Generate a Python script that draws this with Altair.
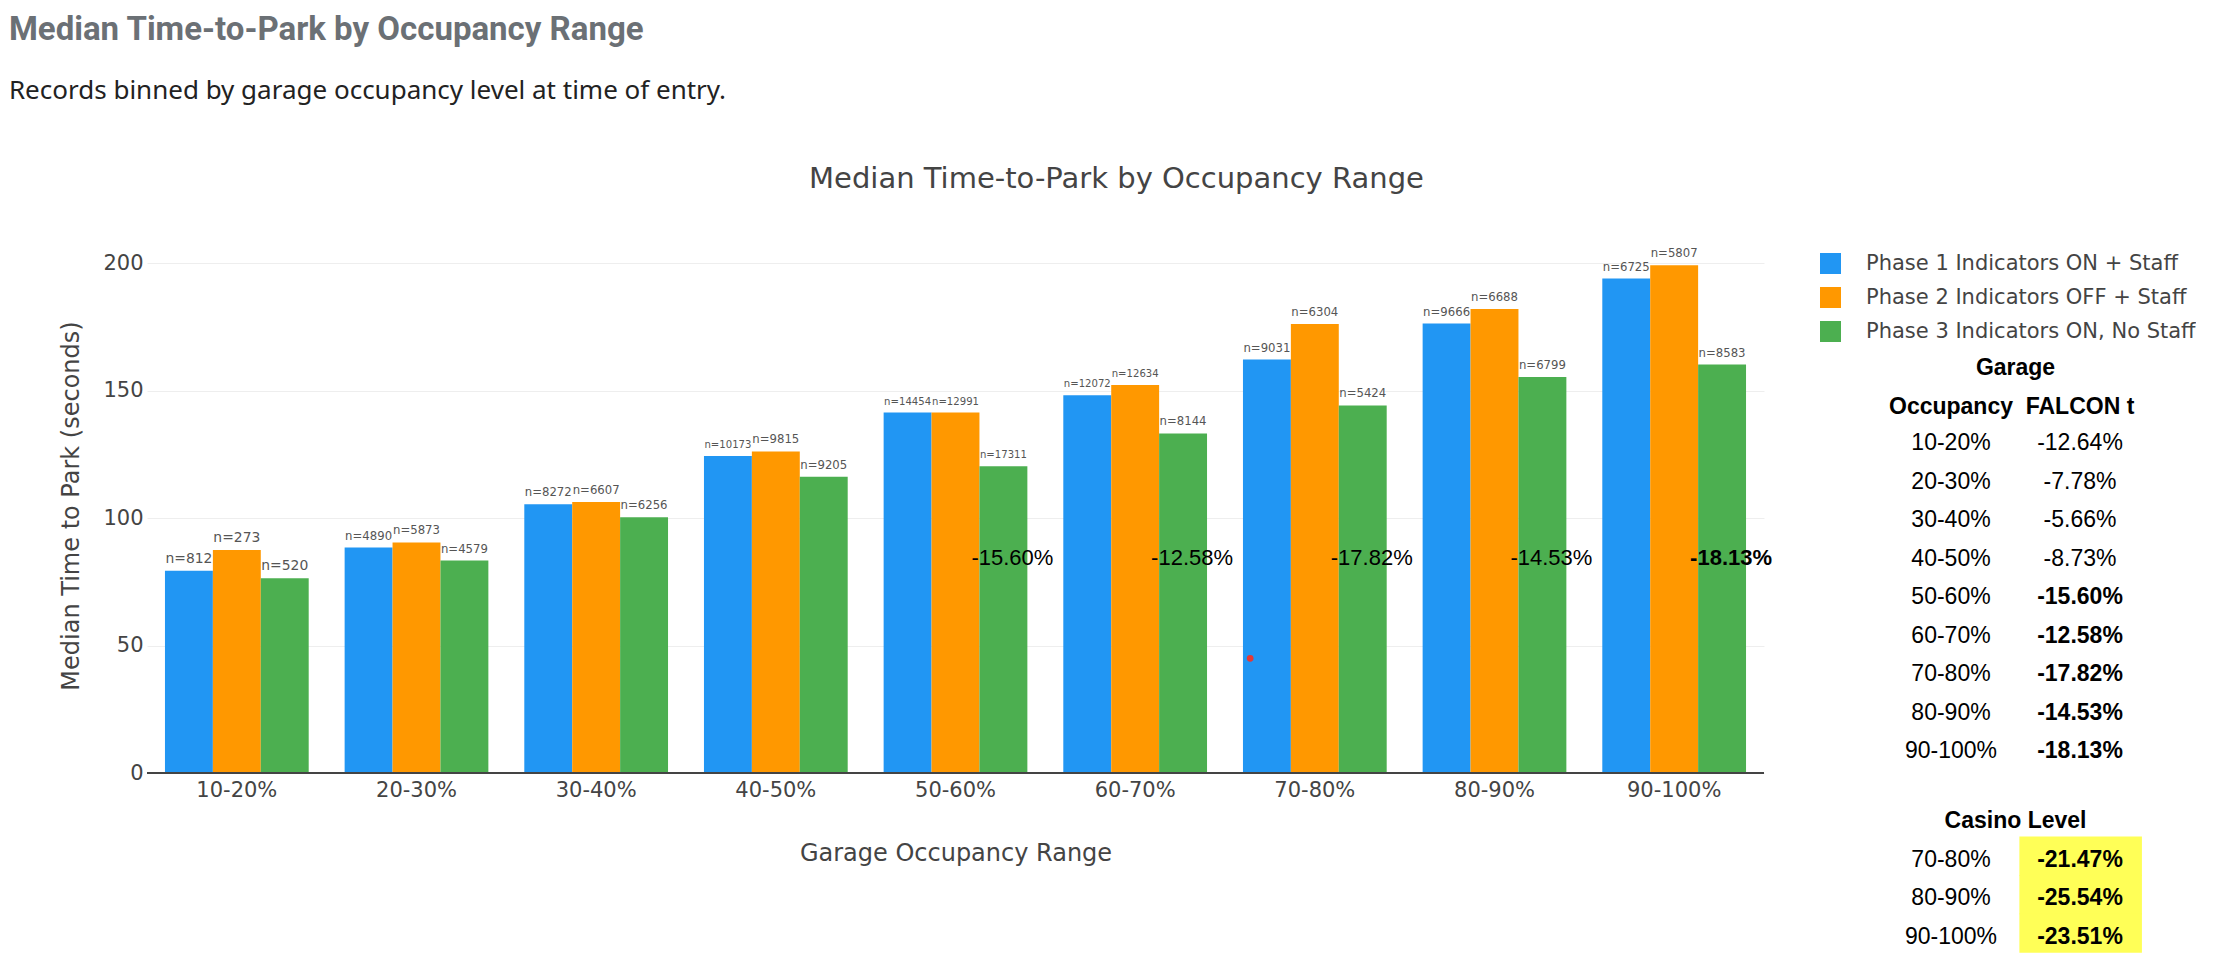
import altair as alt
import pandas as pd

# ---------------- data ----------------
categories = ["10-20%", "20-30%", "30-40%", "40-50%", "50-60%",
              "60-70%", "70-80%", "80-90%", "90-100%"]
phases = ["Phase 1 Indicators ON + Staff",
          "Phase 2 Indicators OFF + Staff",
          "Phase 3 Indicators ON, No Staff"]
phase1_median = [79.4, 88.5, 105.5, 124.4, 141.5, 148.3, 162.3, 176.4, 194.1]
phase2_median = [87.5, 90.5, 106.4, 126.2, 141.5, 152.3, 176.2, 182.1, 199.3]
phase3_median = [76.4, 83.4, 100.4, 116.3, 120.4, 133.3, 144.3, 155.4, 160.3]
phase1_n = [812, 4890, 8272, 10173, 14454, 12072, 9031, 9666, 6725]
phase2_n = [273, 5873, 6607, 9815, 12991, 12634, 6304, 6688, 5807]
phase3_n = [520, 4579, 6256, 9205, 17311, 8144, 5424, 6799, 8583]
colors = ["#2196F3", "#FF9800", "#4CAF50"]

annot_categories = ["50-60%", "60-70%", "70-80%", "80-90%", "90-100%"]
annot_labels = ["-15.60%", "-12.58%", "-17.82%", "-14.53%", "-18.13%"]
annot_bold = [False, False, False, False, True]
annot_value = 84.3

garage_occ = categories
garage_falcon = ["-12.64%", "-7.78%", "-5.66%", "-8.73%", "-15.60%",
                 "-12.58%", "-17.82%", "-14.53%", "-18.13%"]
garage_bold = [False, False, False, False, True, True, True, True, True]
casino_occ = ["70-80%", "80-90%", "90-100%"]
casino_falcon = ["-21.47%", "-25.54%", "-23.51%"]

marker_category = "70-80%"
marker_value = 45

# ---------------- tables ----------------
rows = []
for ph, med, ns in zip(phases, [phase1_median, phase2_median, phase3_median],
                       [phase1_n, phase2_n, phase3_n]):
    for c, v, n in zip(categories, med, ns):
        lab = f"n={n}"
        em = 0.634 + 0.838 + 0.636 * len(str(n))
        rows.append({"occ": c, "phase": ph, "value": v, "label": lab,
                     "fs": min(14.0, 47.0 / em)})
bars_df = pd.DataFrame(rows)

annot_df = pd.DataFrame({"occ": annot_categories, "label": annot_labels,
                         "bold": annot_bold, "phase": phases[2],
                         "value": annot_value})

# table layout (row index computed from structure)
trows = []
trows.append({"text": "Garage", "col": 0.5, "row": 0, "bold": True})
trows.append({"text": "Occupancy", "col": 0.0, "row": 1, "bold": True})
trows.append({"text": "FALCON t", "col": 1.0, "row": 1, "bold": True})
for i, (o, f, b) in enumerate(zip(garage_occ, garage_falcon, garage_bold)):
    trows.append({"text": o, "col": 0.0, "row": 1.95 + i, "bold": False})
    trows.append({"text": f, "col": 1.0, "row": 1.95 + i, "bold": b})
casino_start = 2 + len(garage_occ) + 0.77
trows.append({"text": "Casino Level", "col": 0.5, "row": casino_start, "bold": True})
hl = []
for i, (o, f) in enumerate(zip(casino_occ, casino_falcon)):
    r = casino_start + 1 + i
    trows.append({"text": o, "col": 0.0, "row": r, "bold": False})
    trows.append({"text": f, "col": 1.0, "row": r, "bold": True})
    hl.append({"x0": 0.53, "x1": 1.48, "y0": r - 0.6, "y1": r + 0.42})
table_df = pd.DataFrame(trows)
hl_df = pd.DataFrame(hl)

W, H = 1617, 535
AXF = "DejaVu Sans"
GRAY = "#444444"

x_enc = alt.X("occ:N", sort=categories,
              scale=alt.Scale(domain=categories, paddingInner=0.2, paddingOuter=0.1),
              axis=alt.Axis(title="Garage Occupancy Range", labelAngle=0, ticks=False,
                            domain=False, grid=False, labelFontSize=21, labelFont=AXF,
                            labelColor=GRAY, labelPadding=6, titleFontSize=24,
                            titleFont=AXF, titleColor=GRAY, titleFontWeight="normal",
                            titlePadding=41))
xo_enc = alt.XOffset("phase:N", sort=phases,
                     scale=alt.Scale(domain=phases, paddingInner=0, paddingOuter=0))
y_enc = alt.Y("value:Q", scale=alt.Scale(domain=[0, 210], nice=False),
              axis=alt.Axis(values=[0, 50, 100, 150, 200], title="Median Time to Park (seconds)",
                            ticks=False, domain=False, gridColor="#eeeeee", gridWidth=1,
                            labelFontSize=21, labelFont=AXF, labelColor=GRAY, labelPadding=4,
                            titleFontSize=24, titleFont=AXF, titleColor=GRAY,
                            titleFontWeight="normal", titlePadding=19))

bars = alt.Chart(bars_df).mark_bar().encode(
    x=x_enc, xOffset=xo_enc, y=y_enc,
    color=alt.Color("phase:N", sort=phases,
                    scale=alt.Scale(domain=phases, range=colors),
                    legend=alt.Legend(orient="none", legendX=1673, legendY=15, title=None,
                                      labelFontSize=21, labelFont=AXF, labelColor=GRAY,
                                      symbolType="square", symbolSize=441,
                                      symbolStrokeWidth=0, symbolOpacity=1,
                                      rowPadding=12, labelOffset=25, padding=0,
                                      labelLimit=500)))

nlabels = alt.Chart(bars_df).mark_text(baseline="alphabetic", dy=-8, color="#555555",
                                       font=AXF).encode(
    x=alt.X("occ:N", sort=categories), xOffset=alt.XOffset("phase:N", sort=phases),
    y="value:Q", text="label:N", size=alt.Size("fs:Q", scale=None, legend=None))

annot_norm = alt.Chart(annot_df).transform_filter("!datum.bold").mark_text(
    font="Liberation Sans", fontSize=22, color="black", dx=9, baseline="middle").encode(
    x=alt.X("occ:N", sort=categories), xOffset=alt.XOffset("phase:N", sort=phases),
    y="value:Q", text="label:N")
annot_bold_l = alt.Chart(annot_df).transform_filter("datum.bold").mark_text(
    font="Liberation Sans", fontSize=22, fontWeight="bold", color="black", dx=9,
    baseline="middle").encode(
    x=alt.X("occ:N", sort=categories), xOffset=alt.XOffset("phase:N", sort=phases),
    y="value:Q", text="label:N")

zero_rule = alt.Chart(pd.DataFrame({"z": [0]})).mark_rule(
    color=GRAY, strokeWidth=2).encode(y="z:Q")

dot = alt.Chart(pd.DataFrame({"occ": [marker_category], "value": [marker_value]})).mark_circle(
    color="#e53935", size=45, opacity=1).encode(
    x=alt.X("occ:N", sort=categories, bandPosition=0.05), y="value:Q")

main = alt.layer(bars, zero_rule, nlabels, annot_norm, annot_bold_l, dot)

tx = alt.X("col:Q", scale=alt.Scale(domain=[0, 1], range=[1804, 1933]), axis=None)
ty = alt.Y("row:Q", scale=alt.Scale(domain=[0, 14], range=[130, 669]), axis=None)

hl_rect = alt.Chart(hl_df).mark_rect(color="#ffff57").encode(
    x=alt.X("x0:Q", scale=alt.Scale(domain=[0, 1], range=[1804, 1933]), axis=None),
    x2="x1:Q",
    y=alt.Y("y0:Q", scale=alt.Scale(domain=[0, 14], range=[130, 669]), axis=None),
    y2="y1:Q")
t_norm = alt.Chart(table_df).transform_filter("!datum.bold").mark_text(
    font="Liberation Sans", fontSize=23, color="black", baseline="middle").encode(
    x=tx, y=ty, text="text:N")
t_bold = alt.Chart(table_df).transform_filter("datum.bold").mark_text(
    font="Liberation Sans", fontSize=23, fontWeight="bold", color="black",
    baseline="middle").encode(x=tx, y=ty, text="text:N")
table = alt.layer(hl_rect, t_norm, t_bold)

combined = alt.layer(main, table).resolve_scale(
    x="independent", y="independent").properties(
    width=W, height=H,
    title=alt.TitleParams("Median Time-to-Park by Occupancy Range", anchor="middle",
                          frame="group", dx=161, fontSize=29, font=AXF,
                          fontWeight="normal", color=GRAY, offset=44))

chart = alt.vconcat(combined).properties(
    title=alt.TitleParams("Median Time-to-Park by Occupancy Range",
                          subtitle="Records binned by garage occupancy level at time of entry.",
                          anchor="start", frame="bounds", dx=-51, fontSize=33,
                          font="Roboto", fontWeight="bold", color="#6b7075",
                          subtitleFont="Noto Sans", subtitleFontSize=26,
                          subtitleColor="#222222", subtitlePadding=31, offset=61),
    padding={"left": 0, "top": 6, "right": 0, "bottom": 0}
).configure(background="white", view=alt.ViewConfig(stroke=None))

chart.save("out.html", embed_options={"renderer": "svg", "actions": False})
